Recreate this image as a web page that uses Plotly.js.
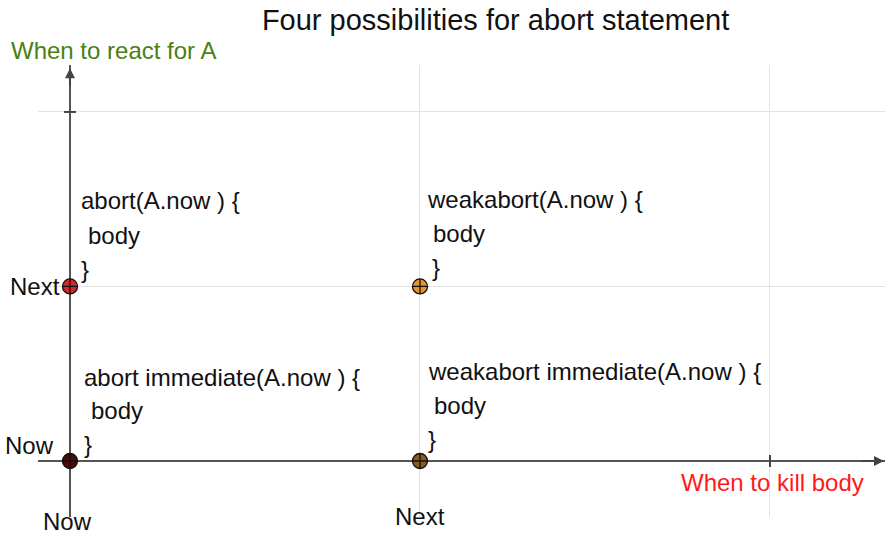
<!DOCTYPE html>
<html><head><meta charset="utf-8">
<script src="https://cdn.plot.ly/plotly-3.0.1.min.js"></script>
<style>html,body{margin:0;padding:0;background:#fff}</style>
</head><body>
<div id="chart" style="width:885px;height:536px"></div>
<script>
// ---- data ----
const xTickLabels = ["Now", "Next"];
const yTickLabels = ["Now", "Next"];
const pointX = [0, 1, 0, 1];
const pointY = [1, 1, 0, 0];
const pointColors = ["#d8262a", "#e2952a", "#4e0a0a", "#8a5a1e"];
const codeLines = [
  ["abort(A.now ) {", "body", "}"],
  ["weakabort(A.now ) {", "body", "}"],
  ["abort immediate(A.now ) {", "body", "}"],
  ["weakabort immediate(A.now ) {", "body", "}"]
];
const titleText = "Four possibilities for abort statement";
const yTitleText = "When to react for A";
const xTitleText = "When to kill body";

// ---- styles (pixel offsets relative to the point each block belongs to) ----
const blockShiftX = [[9, 16, 9], [5, 11, 10], [12, 19, 12], [6, 12, 6]];
const blockShiftY = [[86, 51, 17], [87, 53, 19], [83, 50, 16], [89, 55, 21]];
const font = "Liberation Sans, Arial, sans-serif";

const annotations = [];
codeLines.forEach((lines, b) => {
  lines.forEach((t, i) => {
    annotations.push({
      x: pointX[b], y: pointY[b], xref: "x", yref: "y",
      text: t, showarrow: false, xanchor: "left", yanchor: "middle",
      xshift: blockShiftX[b][i], yshift: blockShiftY[b][i],
      font: {family: font, size: 24, color: "#111"}
    });
  });
});
// y tick labels
yTickLabels.forEach((t, i) => {
  annotations.push({
    x: 0, y: i, xref: "x", yref: "y", text: t, showarrow: false,
    xanchor: "right", yanchor: "middle",
    xshift: i === 0 ? -14 : -8, yshift: i === 0 ? 15 : 0,
    font: {family: font, size: 24, color: "#111"}
  });
});
// x tick labels
xTickLabels.forEach((t, i) => {
  annotations.push({
    x: i, y: 0, xref: "x", yref: "y", text: t, showarrow: false,
    xanchor: "center", yanchor: "middle",
    xshift: i === 0 ? -2 : 0, yshift: i === 0 ? -61 : -56,
    font: {family: font, size: 24, color: "#111"}
  });
});
// axis titles
annotations.push({
  x: -0.034, y: 1.031, xref: "paper", yref: "paper", text: yTitleText,
  showarrow: false, xanchor: "left", yanchor: "middle",
  font: {family: font, size: 24, color: "#4a7f12"}
});
annotations.push({
  x: 0.757, y: 0.077, xref: "paper", yref: "paper", text: xTitleText,
  showarrow: false, xanchor: "left", yanchor: "middle",
  font: {family: font, size: 24, color: "#ff1a1a"}
});
// axis arrows
annotations.push({
  x: 1, y: 0, xref: "paper", yref: "y", ax: 0.97, ay: 0, axref: "paper", ayref: "y",
  text: "", showarrow: true, arrowhead: 2, arrowsize: 1, arrowwidth: 2, arrowcolor: "#444"
});
annotations.push({
  x: 0, y: 0.993, xref: "x", yref: "paper", ax: 0, ay: 0.95, axref: "x", ayref: "paper",
  text: "", showarrow: true, arrowhead: 2, arrowsize: 1, arrowwidth: 2, arrowcolor: "#444"
});

const shapes = [
  {type: "line", xref: "x", yref: "y", xsizemode: "pixel", xanchor: 0, x0: -6, x1: 6, y0: 2, y1: 2,
   line: {color: "#444", width: 2}},
  {type: "line", xref: "x", yref: "y", ysizemode: "pixel", yanchor: 0, x0: 2, x1: 2, y0: -6, y1: 6,
   line: {color: "#444", width: 2}}
];

const trace = {
  x: pointX, y: pointY, type: "scatter", mode: "markers",
  marker: {symbol: "circle-cross", size: 15, color: pointColors, line: {color: "#111", width: 1.3}},
  hoverinfo: "skip", cliponaxis: false
};

const layout = {
  width: 885, height: 536,
  margin: {l: 38, r: 0, t: 65, b: 19},
  paper_bgcolor: "#fff", plot_bgcolor: "#fff",
  showlegend: false,
  title: {text: titleText, x: 0.56, xref: "container", xanchor: "center",
          y: 0.963, yref: "container", yanchor: "middle",
          font: {family: font, size: 29, color: "#111"}},
  xaxis: {range: [-0.0914, 2.3286], tickvals: [0, 1, 2], showticklabels: false,
          showgrid: true, gridcolor: "#e3e3e3", gridwidth: 1,
          zeroline: true, zerolinecolor: "#555", zerolinewidth: 2, showline: false, fixedrange: true},
  yaxis: {range: [-0.321, 2.269], tickvals: [0, 1, 2], showticklabels: false,
          showgrid: true, gridcolor: "#e3e3e3", gridwidth: 1,
          zeroline: true, zerolinecolor: "#555", zerolinewidth: 2, showline: false, fixedrange: true},
  annotations: annotations,
  shapes: shapes
};

Plotly.newPlot("chart", [trace], layout, {displayModeBar: false, staticPlot: true});
</script>
</body></html>
